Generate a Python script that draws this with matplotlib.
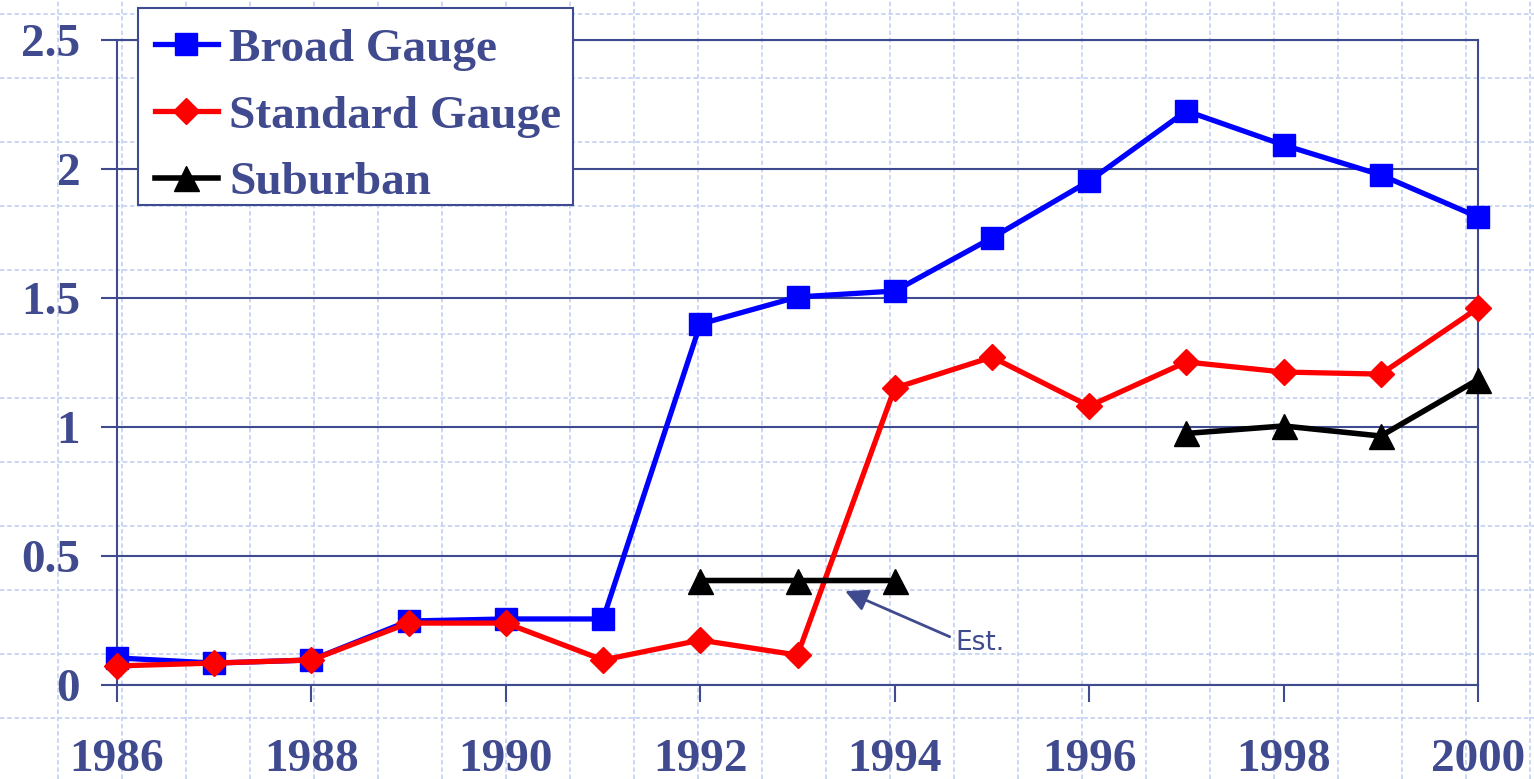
import matplotlib
matplotlib.use('Agg')
import matplotlib.pyplot as plt
from matplotlib.patches import Rectangle
import numpy as np

# data
years = list(range(1986, 2001))
broad_gauge = [0.105, 0.085, 0.097, 0.248, 0.256, 0.256, 1.399, 1.504, 1.527,
               1.733, 1.953, 2.225, 2.093, 1.977, 1.814]
standard_gauge = [0.074, 0.085, 0.097, 0.240, 0.240, 0.097, 0.174, 0.116, 1.151,
                  1.271, 1.081, 1.252, 1.213, 1.205, 1.461]
suburban = [np.nan] * 6 + [0.405, 0.405, 0.405, np.nan, np.nan, 0.975, 1.004, 0.965, 1.184]
series_names = ['Broad Gauge', 'Standard Gauge', 'Suburban']

navy = '#404a8e'
dot_blue = '#c6d3f2'

W, H = 1534, 779
fig = plt.figure(figsize=(W / 100, H / 100), dpi=100)
fig.patch.set_facecolor('white')

# background dotted pattern
bg = fig.add_axes([0, 0, 1, 1])
bg.set_xlim(0, W)
bg.set_ylim(H, 0)
bg.axis('off')
for gx in np.arange(58 - 64, W, 64):
    bg.axvline(gx, color=dot_blue, lw=1.3, ls=(0, (2.5, 1.5)))
for gy in np.arange(14, H, 64):
    bg.axhline(gy, color=dot_blue, lw=1.3, ls=(0, (2.5, 1.5)))

ax = fig.add_axes([117 / W, 1 - 685 / H, (1478 - 117) / W, (685 - 40) / H])
ax.patch.set_alpha(0)

ax.plot(years, broad_gauge, color='#0000ff', lw=3.8, marker='s', ms=16.5,
        label=series_names[0], clip_on=False, zorder=3)
ax.plot(years, standard_gauge, color='#ff0000', lw=3.8, marker='D', ms=13.5,
        label=series_names[1], clip_on=False, zorder=4)
ax.plot(years, suburban, color='black', lw=4, marker='^', ms=18,
        label=series_names[2], clip_on=False, zorder=5)

ax.set_xlim(1986, 2000)
ax.set_ylim(0, 2.5)
ax.set_xticks(range(1986, 2001, 2))
ax.set_yticks([0, 0.5, 1, 1.5, 2, 2.5])
ax.yaxis.set_major_formatter(plt.FuncFormatter(lambda v, p: '%g' % v))
ax.grid(axis='y', color=navy, lw=1.5)
ax.set_axisbelow(True)
for s in ax.spines.values():
    s.set_color(navy)
    s.set_linewidth(1.5)

tick_font = dict(family='Liberation Serif', weight='bold', size=34)
for lab in ax.get_xticklabels() + ax.get_yticklabels():
    lab.set_fontproperties(matplotlib.font_manager.FontProperties(**tick_font))
    lab.set_color(navy)
ax.tick_params(axis='x', length=12, width=1.5, color=navy, pad=27)
ax.tick_params(axis='y', length=11.5, width=1.5, color=navy, pad=15)

ax.annotate('Est.', xy=(1993.49, 0.364), xytext=(1994.62, 0.163),
            color=navy, fontsize=19, family='DejaVu Sans', va='center', ha='left',
            arrowprops=dict(arrowstyle='-|>', color=navy, lw=2, mutation_scale=34,
                            shrinkA=2, shrinkB=0,
                            relpos=(0, 0.65)))

# legend box drawn separately so its size follows the reference
box = Rectangle((138 / W, 1 - 205 / H), (573 - 138) / W, (205 - 8) / H,
                transform=fig.transFigure, facecolor='white', edgecolor=navy,
                lw=1.5, zorder=6, clip_on=False)
ax.add_patch(box)
leg = ax.legend(loc='upper left', bbox_to_anchor=(135 / W, 1 - 8 / H),
                bbox_transform=fig.transFigure, borderaxespad=0, frameon=False,
                handlelength=1.33, handletextpad=0.25,
                borderpad=0.42, labelspacing=0.5,
                prop=dict(family='Liberation Serif', weight='bold', size=34))
leg.set_zorder(7)
for t in leg.get_texts():
    t.set_color(navy)

fig.savefig('out.png', dpi=100)
